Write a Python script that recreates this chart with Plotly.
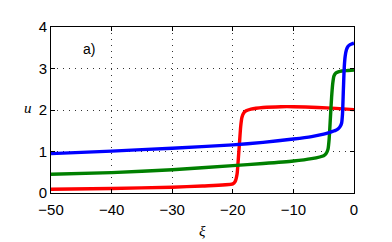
import plotly.graph_objects as go

# Blue curve
blue_x = [-50, -40, -30, -20, -15, -10, -7, -5, -4, -3, -2.6, -2.3, -2.05, -1.9, -1.75, -1.6, -1.45, -1.25, -1.0, -0.7, -0.4, 0]
blue_y = [0.95, 1.01, 1.08, 1.16, 1.22, 1.30, 1.36, 1.42, 1.46, 1.51, 1.55, 1.60, 1.68, 1.9, 2.5, 3.05, 3.3, 3.45, 3.53, 3.57, 3.59, 3.61]

# Green curve
green_x = [-50, -40, -30, -20, -15, -10, -7, -5, -4.6, -4.3, -4.1, -3.9, -3.7, -3.5, -3.3, -3.0, -2.6, -2.0, -1.0, 0]
green_y = [0.45, 0.49, 0.56, 0.66, 0.71, 0.77, 0.83, 0.90, 0.95, 1.05, 1.3, 1.8, 2.3, 2.65, 2.82, 2.89, 2.92, 2.94, 2.95, 2.96]

# Red curve
red_x = [-50, -40, -30, -25, -20, -19.6, -19.3, -19.1, -18.9, -18.7, -18.5, -18.2, -17.8, -17, -15, -12, -10, -6, -3, 0]
red_y = [0.09, 0.11, 0.14, 0.17, 0.22, 0.28, 0.45, 0.8, 1.2, 1.6, 1.82, 1.93, 1.98, 2.02, 2.06, 2.08, 2.08, 2.06, 2.04, 2.01]

x_ticks = [-50, -40, -30, -20, -10, 0]
y_ticks = [0, 1, 2, 3, 4]

fig = go.Figure()
for xs, ys, c in [(red_x, red_y, "#ff0000"), (green_x, green_y, "#008000"), (blue_x, blue_y, "#0000ff")]:
    fig.add_trace(go.Scatter(x=xs, y=ys, mode="lines", line=dict(color=c, width=3.4, shape="spline", smoothing=0.6),
                             showlegend=False, hoverinfo="skip"))

axis_common = dict(
    showline=True, linecolor="black", linewidth=1, mirror="ticks",
    ticks="inside", ticklen=4, tickcolor="black",
    showgrid=True, gridcolor="#333333", griddash="1px,5px", gridwidth=1,
    zeroline=False,
    tickfont=dict(family="Liberation Sans, Arial", size=15, color="black"),
)

# page body has an 8px margin, so the figure is offset by 8px
fig.update_layout(
    width=384, height=234,
    margin=dict(l=43, r=38, t=10, b=49),
    plot_bgcolor="white", paper_bgcolor="white",
    xaxis=dict(range=[-50, 0], tickvals=x_ticks, ticklabelstandoff=3, **axis_common),
    yaxis=dict(range=[0, 4], tickvals=y_ticks, **axis_common),
    annotations=[
        dict(x=-43.7, y=3.47, text="a)", showarrow=False, xref="x", yref="y",
             font=dict(family="Liberation Sans, Arial", size=14, color="black")),
        dict(x=0.5, y=-0.23, xref="paper", yref="paper", text="<i>ξ</i>", showarrow=False,
             yanchor="middle",
             font=dict(family="Liberation Serif, Times New Roman", size=15, color="black")),
        dict(x=-0.095, y=0.51, xref="paper", yref="paper", text="<i>u</i>", showarrow=False,
             font=dict(family="Liberation Serif, Times New Roman", size=15, color="black")),
    ],
)

fig.write_html("out.html")
